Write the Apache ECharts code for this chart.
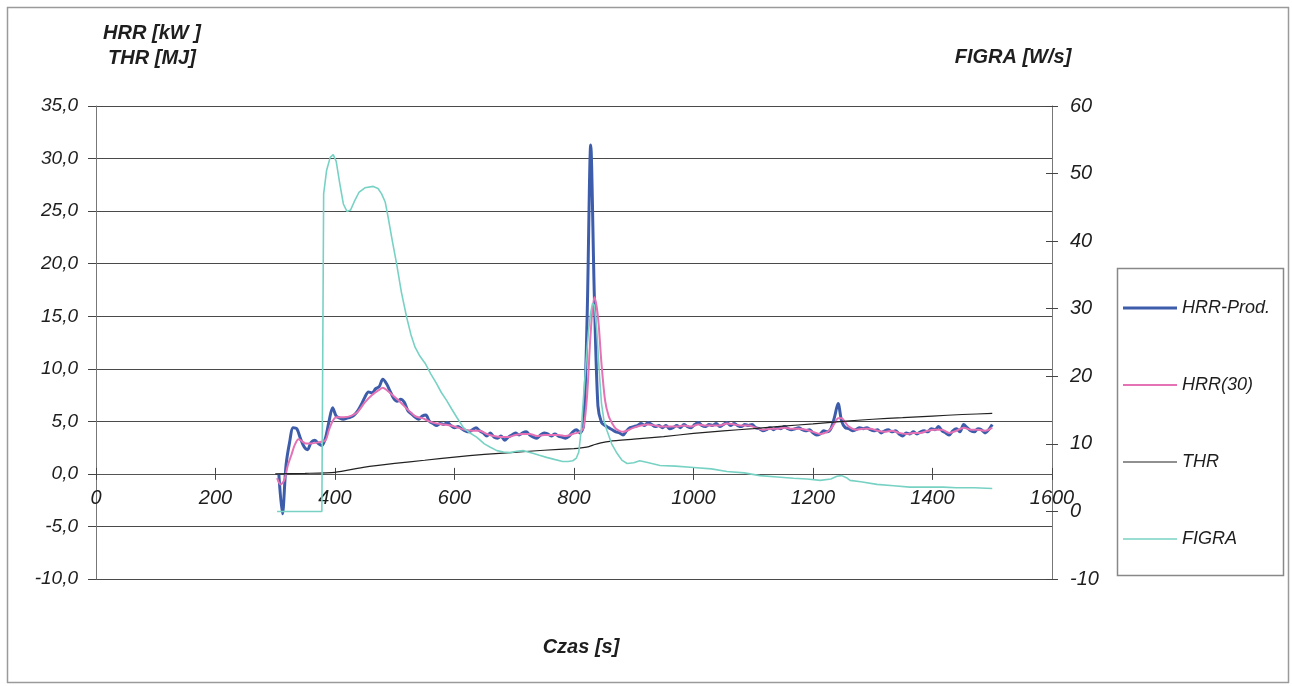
<!DOCTYPE html>
<html>
<head>
<meta charset="utf-8">
<script src="https://cdn.jsdelivr.net/npm/echarts@6/dist/echarts.min.js"></script>
<style>
html,body{margin:0;padding:0;background:#fff;}
#chart{width:1292px;height:686px;}
</style>
</head>
<body>
<div id="chart"></div>
<script>
// ---- DATA ----
const seriesNames = ['HRR-Prod.', 'HRR(30)', 'THR', 'FIGRA'];
const xTicks = [0, 200, 400, 600, 800, 1000, 1200, 1400, 1600];

// HRR-Prod. [kW] sampled every 6 s
const hrrProdTime = [
  306,312,318,324,330,336,342,348,354,360,
  366,372,378,384,390,396,402,408,414,420,
  426,432,438,444,450,456,462,468,474,480,
  486,492,498,504,510,516,522,528,534,540,
  546,552,558,564,570,576,582,588,594,600,
  606,612,618,624,630,636,642,648,654,660,
  666,672,678,684,690,696,702,708,714,720,
  726,732,738,744,750,756,762,768,774,780,
  786,792,798,804,810,816,822,828,834,840,
  846,852,858,864,870,876,882,888,894,900,
  906,912,918,924,930,936,942,948,954,960,
  966,972,978,984,990,996,1002,1008,1014,1020,
  1026,1032,1038,1044,1050,1056,1062,1068,1074,1080,
  1086,1092,1098,1104,1110,1116,1122,1128,1134,1140,
  1146,1152,1158,1164,1170,1176,1182,1188,1194,1200,
  1206,1212,1218,1224,1230,1236,1242,1248,1254,1260,
  1266,1272,1278,1284,1290,1296,1302,1308,1314,1320,
  1326,1332,1338,1344,1350,1356,1362,1368,1374,1380,
  1386,1392,1398,1404,1410,1416,1422,1428,1434,1440,
  1446,1452,1458,1464,1470,1476,1482,1488,1494,1500
];
const hrrProdValues = [
  0.0,-3.8,0.8,3.0,4.4,4.3,3.4,2.6,2.3,3.0,
  3.2,2.9,2.7,3.4,5.0,6.3,5.5,5.3,5.2,5.3,
  5.4,5.6,6.0,6.6,7.3,7.8,7.7,8.1,8.3,9.0,
  8.6,7.9,7.2,6.9,7.1,6.8,6.0,5.7,5.4,5.2,
  5.5,5.6,5.0,4.8,4.6,4.8,4.7,4.9,4.6,4.4,
  4.5,4.3,4.1,4.0,4.2,4.4,4.1,3.9,3.6,3.9,
  3.5,3.4,3.6,3.2,3.5,3.7,3.9,3.7,3.9,4.0,
  3.7,3.5,3.4,3.7,3.9,3.8,3.6,3.8,3.6,3.5,
  3.4,3.6,4.0,4.2,3.9,4.6,15.0,31.3,17.0,6.5,
  4.9,4.6,4.4,4.2,4.0,3.9,3.7,4.1,4.4,4.5,
  4.6,4.8,4.6,4.9,4.7,4.5,4.6,4.4,4.6,4.3,
  4.4,4.6,4.4,4.7,4.5,4.4,4.7,4.9,4.6,4.5,
  4.7,4.6,4.8,4.5,4.7,4.9,4.6,4.8,4.6,4.5,
  4.7,4.6,4.7,4.4,4.3,4.1,4.2,4.4,4.2,4.4,
  4.3,4.5,4.3,4.2,4.3,4.4,4.2,4.1,4.2,3.9,
  3.7,3.8,4.1,4.0,4.3,5.4,6.7,5.0,4.4,4.3,
  4.1,4.2,4.4,4.3,4.4,4.2,4.1,4.2,3.9,4.1,
  4.2,4.0,4.1,3.8,3.6,3.9,3.8,4.0,3.8,4.0,
  4.1,4.0,4.3,4.2,4.5,4.1,3.9,3.7,4.1,4.3,
  4.0,4.7,4.4,4.1,4.0,4.3,4.2,3.9,4.2,4.7
];

// HRR(30) [kW] as [time, value]
const hrr30 = [
  [303,-0.4],[309,-1.0],[315,-0.6],[321,0.8],[327,1.8],[333,2.8],[339,3.3],[345,3.1],[351,2.9],[360,2.9],
  [372,3.0],[384,3.2],[390,4.2],[396,5.0],[402,5.4],[414,5.4],[426,5.5],[438,5.9],[450,6.8],[462,7.5],
  [474,8.0],[480,8.2],[486,8.0],[498,7.4],[510,6.8],[522,6.1],[534,5.5],[546,5.3],[558,5.0],[570,4.8],
  [582,4.7],[594,4.6],[606,4.4],[618,4.2],[630,4.1],[642,4.1],[654,3.8],[666,3.6],[678,3.5],[690,3.5],
  [702,3.7],[714,3.8],[726,3.8],[738,3.6],[750,3.7],[762,3.7],[774,3.7],[786,3.6],[798,3.8],[810,4.0],
  [816,4.4],[822,7.5],[828,13.5],[834,16.8],[840,15.0],[846,10.5],[852,7.0],[858,5.5],[864,4.8],[870,4.3],
  [876,4.1],[882,4.0],[888,4.1],[900,4.4],[912,4.6],[924,4.7],[936,4.6],[948,4.5],[960,4.5],[972,4.5],
  [984,4.6],[996,4.5],[1008,4.7],[1020,4.6],[1032,4.6],[1044,4.6],[1056,4.8],[1068,4.7],[1080,4.6],[1092,4.6],
  [1104,4.4],[1116,4.2],[1128,4.3],[1140,4.3],[1152,4.4],[1164,4.3],[1176,4.3],[1188,4.2],[1200,4.0],[1212,3.8],
  [1224,4.0],[1230,4.3],[1236,4.8],[1242,5.3],[1248,5.3],[1254,4.9],[1260,4.5],[1272,4.2],[1284,4.3],[1296,4.3],
  [1308,4.1],[1320,4.0],[1332,4.1],[1344,3.9],[1356,3.8],[1368,3.9],[1380,3.9],[1392,4.1],[1404,4.2],[1416,4.2],
  [1428,3.9],[1440,4.1],[1452,4.4],[1464,4.2],[1476,4.2],[1488,4.1],[1500,4.4]
];

// THR [MJ] as [time, value]
const thr = [
  [300,0],[350,0.05],[400,0.15],[450,0.65],[500,1.0],[550,1.3],[600,1.6],[650,1.85],[700,2.05],
  [750,2.25],[800,2.4],[815,2.5],[825,2.6],[835,2.8],[845,2.95],[860,3.1],[900,3.3],[950,3.55],
  [1000,3.85],[1050,4.1],[1100,4.3],[1150,4.55],[1200,4.75],[1250,5.0],[1300,5.2],[1350,5.35],
  [1400,5.5],[1450,5.65],[1500,5.75]
];

// FIGRA [W/s] as [time, value]
const figra = [
  [303,0],[378,0],[381,47],[386,50.5],[392,52.4],[397,52.8],[402,51.8],[408,48.5],[414,45.5],[420,44.4],
  [426,44.6],[432,45.8],[440,47.2],[450,47.9],[464,48.1],[472,47.8],[478,47.0],[484,45.8],[489,43.5],[496,40.0],
  [503,36.7],[511,32.5],[520,28.7],[527,26.2],[534,24.3],[542,23.0],[551,21.9],[560,20.4],[570,18.9],[578,17.6],
  [587,16.4],[595,15.2],[604,13.9],[615,12.4],[626,11.6],[637,11.0],[650,10.0],[660,9.5],[671,9.0],[682,8.8],
  [693,8.7],[704,8.9],[715,9.0],[723,8.8],[731,8.6],[742,8.3],[754,8.0],[767,7.7],[781,7.4],[790,7.4],
  [798,7.5],[804,7.9],[808,8.8],[812,12.0],[816,17.0],[820,22.0],[824,26.5],[828,29.5],[831,30.8],[834,30.5],
  [838,27.0],[842,21.0],[846,16.0],[850,13.5],[855,12.0],[863,10.0],[872,8.6],[880,7.6],[889,7.1],[900,7.2],
  [910,7.5],[925,7.2],[944,6.8],[970,6.7],[1000,6.5],[1030,6.3],[1056,5.9],[1085,5.7],[1111,5.3],[1140,5.1],
  [1167,4.9],[1190,4.8],[1212,4.6],[1230,4.8],[1240,5.2],[1248,5.3],[1256,5.0],[1262,4.6],[1280,4.4],[1307,4.0],
  [1335,3.8],[1362,3.6],[1390,3.6],[1418,3.6],[1440,3.5],[1470,3.5],[1500,3.4]
];

// ---- CHART ----
const FONT = '"Liberation Sans", Arial, Helvetica, sans-serif';
const hrrProd = hrrProdTime.map((t, i) => [t, hrrProdValues[i]]);
const colors = ['#3d5dab', '#e472b4', '#222222', '#78d2c4'];
const widths = [3, 2, 1.2, 1.6];
const chart = echarts.init(document.getElementById('chart'), null, {renderer: 'canvas'});

const axisLabelBase = {fontFamily: FONT, fontStyle: 'italic', color: '#1e1e1e'};
const xMin = xTicks[0], xMax = xTicks[xTicks.length - 1];

function linePath(h) { return 'path://M0,0 L54,0 L54,' + h + ' L0,' + h + ' Z'; }

chart.setOption({
  animation: false,
  backgroundColor: '#ffffff',
  grid: {left: 96, right: 240, top: 106, bottom: 107, containLabel: false},
  xAxis: [
    { // axis line + downward ticks at the zero of the left axis
      type: 'value', min: xMin, max: xMax, interval: 200, position: 'bottom',
      axisLine: {show: true, onZero: true, onZeroAxisIndex: 0, lineStyle: {color: '#555', width: 1}},
      axisTick: {show: true, length: 6, lineStyle: {color: '#444', width: 1}},
      axisLabel: {show: false},
      splitLine: {show: false}
    },
    { // upward ticks
      type: 'value', min: xMin, max: xMax, interval: 200, position: 'bottom',
      axisLine: {show: false, onZero: true, onZeroAxisIndex: 0},
      axisTick: {show: true, inside: true, length: 6, lineStyle: {color: '#444', width: 1}},
      axisLabel: {show: false},
      splitLine: {show: false}
    },
    { // tick labels just below the zero line
      type: 'value', min: xMin, max: xMax, interval: 200, position: 'bottom', offset: -105,
      axisLine: {show: false, onZero: false},
      axisTick: {show: false},
      axisLabel: Object.assign({fontSize: 20, margin: 14, formatter: v => String(v)}, axisLabelBase),
      splitLine: {show: false}
    }
  ],
  yAxis: [
    {
      type: 'value', min: -10, max: 35, interval: 5, position: 'left',
      axisLine: {show: true, onZero: false, lineStyle: {color: '#777', width: 1}},
      axisTick: {show: true, length: 8, lineStyle: {color: '#444'}},
      axisLabel: Object.assign({fontSize: 19, margin: 18, formatter: v => v.toFixed(1).replace('.', ',')}, axisLabelBase),
      splitLine: {show: true, lineStyle: {color: '#4a4a4a', width: 1}}
    },
    {
      type: 'value', min: -10, max: 60, interval: 10, position: 'right',
      axisLine: {show: true, onZero: false, lineStyle: {color: '#777', width: 1}},
      axisTick: {show: true, length: 6, lineStyle: {color: '#444'}},
      axisLabel: Object.assign({fontSize: 20, margin: 18, formatter: v => String(v)}, axisLabelBase),
      splitLine: {show: false}
    },
    {
      type: 'value', min: -10, max: 60, interval: 10, position: 'right',
      axisLine: {show: false, onZero: false},
      axisTick: {show: true, inside: true, length: 6, lineStyle: {color: '#444'}},
      axisLabel: {show: false},
      splitLine: {show: false}
    }
  ],
  legend: {
    orient: 'vertical', left: 1123, top: 299, padding: 0,
    itemGap: 59, itemWidth: 54, itemHeight: 14,
    symbolKeepAspect: true,
    itemStyle: {borderWidth: 0},
    data: seriesNames.map((n, i) => ({name: n, icon: linePath(widths[i])})),
    textStyle: {fontFamily: FONT, fontStyle: 'italic', fontSize: 18, lineHeight: 18, color: '#1e1e1e'}
  },
  graphic: [
    {type: 'rect', shape: {x: 7.5, y: 7.5, width: 1281, height: 675}, style: {fill: 'none', stroke: '#9a9a9a', lineWidth: 1.5}, z: -1, silent: true},
    {type: 'rect', shape: {x: 1117.5, y: 268.5, width: 166, height: 307}, style: {fill: 'none', stroke: '#888', lineWidth: 1.5}, silent: true},
    {type: 'text', x: 152, y: 33, style: {text: 'HRR [kW ]', font: 'italic bold 20px ' + FONT, fill: '#1e1e1e', textAlign: 'center', textVerticalAlign: 'middle'}},
    {type: 'text', x: 152, y: 58, style: {text: 'THR [MJ]', font: 'italic bold 20px ' + FONT, fill: '#1e1e1e', textAlign: 'center', textVerticalAlign: 'middle'}},
    {type: 'text', x: 1013, y: 57, style: {text: 'FIGRA [W/s]', font: 'italic bold 20px ' + FONT, fill: '#1e1e1e', textAlign: 'center', textVerticalAlign: 'middle'}},
    {type: 'text', x: 581, y: 647, style: {text: 'Czas [s]', font: 'italic bold 20px ' + FONT, fill: '#1e1e1e', textAlign: 'center', textVerticalAlign: 'middle'}}
  ],
  series: [
    {
      name: seriesNames[0], type: 'line', xAxisIndex: 0, yAxisIndex: 0, data: hrrProd,
      symbol: 'none', smooth: 0.3, lineStyle: {color: colors[0], width: widths[0]}, itemStyle: {color: colors[0]}, z: 2
    },
    {
      name: seriesNames[1], type: 'line', xAxisIndex: 0, yAxisIndex: 0, data: hrr30,
      symbol: 'none', smooth: 0.3, lineStyle: {color: colors[1], width: widths[1]}, itemStyle: {color: colors[1]}, z: 3
    },
    {
      name: seriesNames[2], type: 'line', xAxisIndex: 0, yAxisIndex: 0, data: thr,
      symbol: 'none', smooth: 0.2, lineStyle: {color: colors[2], width: widths[2]}, itemStyle: {color: colors[2]}, z: 3
    },
    {
      name: seriesNames[3], type: 'line', xAxisIndex: 0, yAxisIndex: 1, data: figra,
      symbol: 'none', smooth: false, lineStyle: {color: colors[3], width: widths[3]}, itemStyle: {color: colors[3]}, z: 3
    }
  ]
});
</script>
</body>
</html>
